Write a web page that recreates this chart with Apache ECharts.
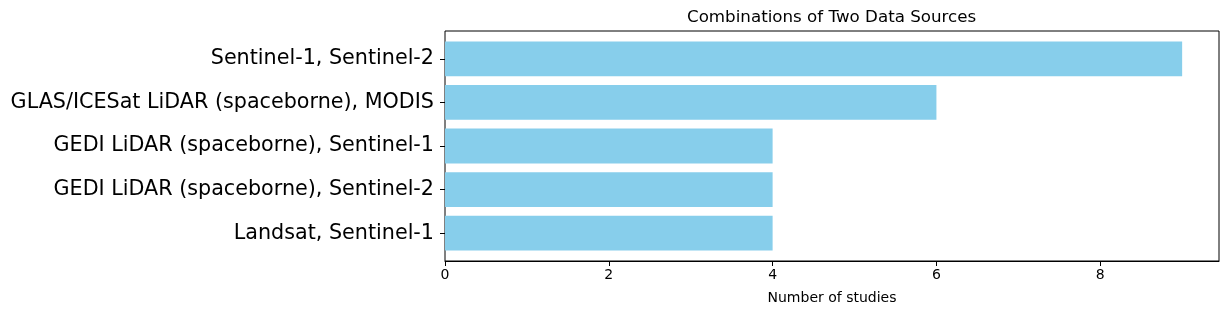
<!DOCTYPE html>
<html>
<head>
<meta charset="utf-8">
<script src="https://cdn.jsdelivr.net/npm/echarts@6/dist/echarts.min.js"></script>
<style>html,body{margin:0;padding:0;background:#fff;}#c{width:1229px;height:314px;}</style>
</head>
<body>
<div id="c"></div>
<script>
const categories = [
  "Sentinel-1, Sentinel-2",
  "GLAS/ICESat LiDAR (spaceborne), MODIS",
  "GEDI LiDAR (spaceborne), Sentinel-1",
  "GEDI LiDAR (spaceborne), Sentinel-2",
  "Landsat, Sentinel-1"
];
const studies = [9, 6, 4, 4, 4];
const xTicks = [0, 2, 4, 6, 8];

const FONT = "'DejaVu Sans', sans-serif";
const chart = echarts.init(document.getElementById('c'), null, {renderer: 'canvas'});
const L = 445, R = 10, T = 31, H = 230;
const unit = H / 5.28;
const innerTop = T + 0.14 * unit;
const innerH = 5 * unit;

chart.setOption({
  animation: false,
  title: {
    text: "Combinations of Two Data Sources",
    left: L + (1229 - L - R) / 2 - 145, top: 9, padding: 0,
    textStyle: {fontFamily: FONT, fontSize: 16.7, fontWeight: 'normal', color: '#000'}
  },
  grid: [
    {left: L, right: R, top: T, height: H, show: true, borderColor: '#000', borderWidth: 1, backgroundColor: 'transparent'},
    {left: L, right: R, top: innerTop, height: innerH}
  ],
  xAxis: [
    {
      gridIndex: 0, type: 'value', min: 0, max: 9.45,
      name: "Number of studies", nameLocation: 'middle', nameGap: 30,
      nameTextStyle: {fontFamily: FONT, fontSize: 14, color: '#000'},
      axisLine: {show: true, lineStyle: {color: '#000', width: 1}},
      axisTick: {show: true, length: 5, lineStyle: {color: '#000'}, customValues: xTicks},
      axisLabel: {fontFamily: FONT, fontSize: 14, color: '#000', margin: 7, customValues: xTicks},
      splitLine: {show: false}
    },
    {gridIndex: 1, type: 'value', min: 0, max: 9.45, show: false}
  ],
  yAxis: [
    {gridIndex: 0, type: 'value', min: 0, max: 1, show: false},
    {
      gridIndex: 1, type: 'category', data: categories, inverse: true,
      axisLine: {show: false},
      axisTick: {show: true, alignWithLabel: true, length: 5, lineStyle: {color: '#000'}},
      axisLabel: {fontFamily: FONT, fontSize: 20.7, color: '#000', margin: 11},
      splitLine: {show: false}
    }
  ],
  series: [{
    type: 'bar', xAxisIndex: 1, yAxisIndex: 1,
    data: studies,
    barWidth: 0.8 * unit,
    itemStyle: {color: '#87CEEB'}
  }]
});
</script>
</body>
</html>
